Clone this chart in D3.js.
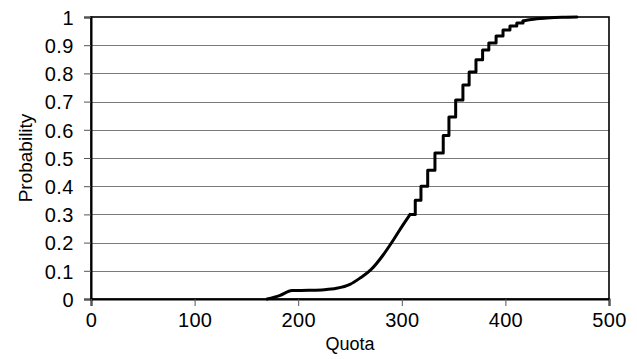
<!DOCTYPE html>
<html>
<head>
<meta charset="utf-8">
<script src="https://cdn.jsdelivr.net/npm/d3@7"></script>
<style>
  body { margin: 0; background: #fff; }
  text { font-family: "Liberation Sans", Arial, sans-serif; fill: #000; }
</style>
</head>
<body>
<div id="wrapper"></div>
<script>
// smooth lower part of the curve
const smoothQuota = [170, 182, 194, 210, 225, 237, 250, 260, 270, 282, 292, 301, 308];
const smoothProb = [0, 0.012, 0.03, 0.031, 0.033, 0.038, 0.052, 0.075, 0.103, 0.156, 0.21, 0.262, 0.30];
// stepped middle part
const stepQuota = [308, 313, 318.5, 325, 332, 340, 345.5, 352, 359, 365, 371.6, 378, 384, 391, 397.7, 404.4, 411, 417];
const stepProb = [0.30, 0.35, 0.40, 0.457, 0.518, 0.58, 0.645, 0.706, 0.759, 0.805, 0.848, 0.883, 0.908, 0.933, 0.954, 0.968, 0.979, 0.986];
// smooth tail
const tailQuota = [417, 425, 440, 455, 469];
const tailProb = [0.986, 0.991, 0.996, 0.999, 1.0];

const xTicks = [0, 100, 200, 300, 400, 500];
const yTicks = [0, 0.1, 0.2, 0.3, 0.4, 0.5, 0.6, 0.7, 0.8, 0.9, 1];

function drawChart() {
  const dimensions = {
    width: 637,
    height: 359,
    margin: { top: 17, right: 28, bottom: 60, left: 91 },
  };
  dimensions.boundedWidth = dimensions.width - dimensions.margin.left - dimensions.margin.right;
  dimensions.boundedHeight = dimensions.height - dimensions.margin.top - dimensions.margin.bottom;

  const wrapper = d3.select("#wrapper")
    .append("svg")
    .attr("width", dimensions.width)
    .attr("height", dimensions.height);

  const bounds = wrapper.append("g")
    .attr("transform", `translate(${dimensions.margin.left},${dimensions.margin.top})`);

  const xScale = d3.scaleLinear().domain([0, 500]).range([0, dimensions.boundedWidth]);
  const yScale = d3.scaleLinear().domain([0, 1]).range([dimensions.boundedHeight, 0]);

  // grid lines
  bounds.append("g")
    .selectAll("line")
    .data(yTicks.filter((d) => d > 0 && d < 1))
    .join("line")
    .attr("x1", 0)
    .attr("x2", dimensions.boundedWidth)
    .attr("y1", (d) => Math.round(yScale(d)) + 0.5)
    .attr("y2", (d) => Math.round(yScale(d)) + 0.5)
    .attr("stroke", "#7a7a7a")
    .attr("stroke-width", 1);

  // frame top/right
  bounds.append("rect")
    .attr("x", 0)
    .attr("y", 0)
    .attr("width", dimensions.boundedWidth)
    .attr("height", dimensions.boundedHeight)
    .attr("fill", "none")
    .attr("stroke", "#000")
    .attr("stroke-width", 1.6);

  // y axis
  const yAxis = d3.axisLeft(yScale)
    .tickValues(yTicks)
    .tickSize(7)
    .tickPadding(10)
    .tickFormat((d) => d3.format("~g")(d));
  const yAxisG = bounds.append("g").call(yAxis);
  yAxisG.select(".domain").attr("stroke-width", 2);
  yAxisG.selectAll(".tick line").attr("stroke", "#555");
  yAxisG.selectAll("text")
    .style("font-size", "20px")
    .style("letter-spacing", "0.5px")
    .attr("dy", "0.36em");

  // x axis
  const xAxis = d3.axisBottom(xScale)
    .tickValues(xTicks)
    .tickSize(7)
    .tickPadding(7);
  const xAxisG = bounds.append("g")
    .attr("transform", `translate(0,${dimensions.boundedHeight})`)
    .call(xAxis);
  xAxisG.select(".domain").attr("stroke-width", 2);
  xAxisG.selectAll(".tick line").attr("stroke", "#555");
  xAxisG.selectAll("text")
    .style("font-size", "20px")
    .style("letter-spacing", "0.3px");

  // axis titles
  bounds.append("text")
    .attr("x", dimensions.boundedWidth / 2)
    .attr("y", dimensions.boundedHeight + 51)
    .attr("text-anchor", "middle")
    .style("font-size", "18px")
    .text("Quota");

  bounds.append("text")
    .attr("transform", `translate(${-59},${dimensions.boundedHeight / 2}) rotate(-90)`)
    .attr("text-anchor", "middle")
    .style("font-size", "19px")
    .text("Probability");

  // curve
  const toPoints = (qs, ps) => qs.map((q, i) => [q, ps[i]]);
  const lineGen = (curve) => d3.line()
    .x((d) => xScale(d[0]))
    .y((d) => yScale(d[1]))
    .curve(curve);

  const curves = [
    [toPoints(smoothQuota, smoothProb), d3.curveMonotoneX],
    [toPoints(stepQuota, stepProb), d3.curveStepAfter],
    [toPoints(tailQuota, tailProb), d3.curveMonotoneX],
  ];

  bounds.append("g")
    .selectAll("path")
    .data(curves)
    .join("path")
    .attr("d", (d) => lineGen(d[1])(d[0]))
    .attr("fill", "none")
    .attr("stroke", "#000")
    .attr("stroke-width", 3)
    .attr("stroke-linejoin", "round")
    .attr("stroke-linecap", "round");
}
drawChart();
</script>
</body>
</html>
